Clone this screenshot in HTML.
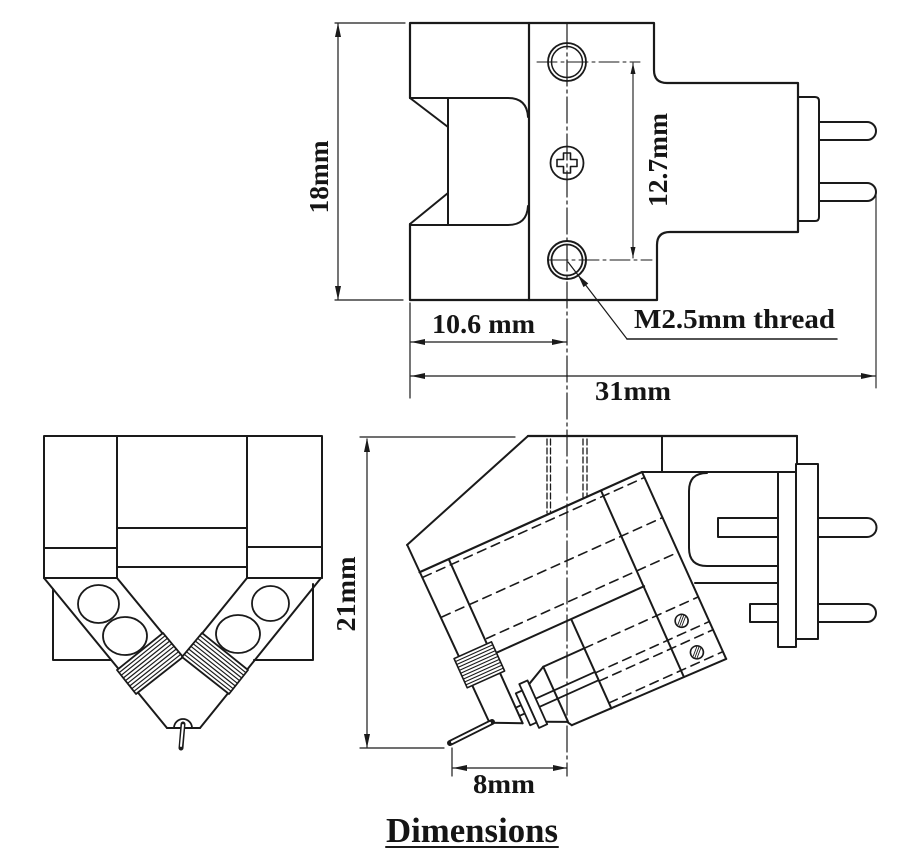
<!DOCTYPE html>
<html><head><meta charset="utf-8">
<style>
html,body{margin:0;padding:0;background:#fff}
svg{display:block}
text{font-family:"Liberation Serif","DejaVu Serif",serif;font-weight:bold;fill:#151515}
</style></head>
<body>
<svg width="907" height="859" viewBox="0 0 907 859" xmlns="http://www.w3.org/2000/svg">
<g fill="none" stroke="#1a1a1a" stroke-linecap="round" stroke-linejoin="round">

<!-- ===== Center line ===== -->
<line x1="567" y1="23" x2="567" y2="776" stroke-width="1.2" stroke-dasharray="26,4,3,4"/>
<line x1="537" y1="62" x2="640" y2="62" stroke-width="1" stroke-dasharray="20,4,3,4"/>
<line x1="548" y1="260" x2="652" y2="260" stroke-width="1" stroke-dasharray="20,4,3,4"/>

<!-- ===== TOP VIEW ===== -->
<path d="M410,98 L410,23 L654,23 L654,70 Q654,83 667,83 L798,83 L798,232 L670,232 Q657,232 657,245 L657,300 L410,300 L410,224" stroke-width="2.2"/>
<line x1="529" y1="23" x2="529" y2="300" stroke-width="2.2"/>
<path d="M410,98 L508,98 Q527,98 528,117" stroke-width="2"/>
<path d="M410,225 L508,225 Q527,225 528,206" stroke-width="2"/>
<line x1="448" y1="98" x2="448" y2="225" stroke-width="2"/>
<line x1="410" y1="98" x2="448" y2="127" stroke-width="2"/>
<line x1="410" y1="224" x2="448" y2="193" stroke-width="2"/>
<!-- plug -->
<path d="M798,97 L815,97 Q819,97 819,101 L819,217 Q819,221 815,221 L798,221" stroke-width="2"/>
<path d="M819,122 L867,122 A9,9 0 0 1 867,140 L819,140" stroke-width="2"/>
<path d="M819,183 L867,183 A9,9 0 0 1 867,201 L819,201" stroke-width="2"/>
<!-- holes -->
<circle cx="567" cy="62" r="19" stroke-width="1.8"/>
<circle cx="567" cy="62" r="15.5" stroke-width="1.5"/>
<circle cx="567" cy="163" r="16.5" stroke-width="1.8"/>
<path d="M563.5,153 h7 v6.5 h6.5 v7 h-6.5 v6.5 h-7 v-6.5 h-6.5 v-7 h6.5 z" stroke-width="1.6"/>
<circle cx="567" cy="260" r="19" stroke-width="2"/>
<circle cx="567" cy="260" r="15.5" stroke-width="1.8"/>

<!-- 18mm dim -->
<line x1="335" y1="23" x2="405" y2="23" stroke-width="1.2"/>
<line x1="335" y1="300" x2="403" y2="300" stroke-width="1.2"/>
<line x1="338" y1="24" x2="338" y2="299" stroke-width="1.2"/>
<!-- 12.7 dim -->
<line x1="633" y1="63" x2="633" y2="258" stroke-width="1.1"/>
<!-- 10.6 dim -->
<line x1="410" y1="303" x2="410" y2="398" stroke-width="1.2"/>
<line x1="411" y1="342" x2="566" y2="342" stroke-width="1.2"/>
<!-- 31 dim -->
<line x1="411" y1="376" x2="875" y2="376" stroke-width="1.2"/>
<line x1="876" y1="195" x2="876" y2="388" stroke-width="1.1"/>
<!-- M2.5 leader -->
<line x1="568" y1="262" x2="627" y2="339" stroke-width="1.2"/>
<line x1="627" y1="339" x2="837" y2="339" stroke-width="1.5"/>

<!-- ===== FRONT VIEW ===== -->
<path d="M44,578 L44,436 L322,436 L322,578" stroke-width="2"/>
<line x1="117" y1="436" x2="117" y2="578" stroke-width="2"/>
<line x1="247" y1="436" x2="247" y2="578" stroke-width="2"/>
<line x1="44" y1="548" x2="117" y2="548" stroke-width="2"/>
<line x1="247" y1="547" x2="322" y2="547" stroke-width="2"/>
<line x1="117" y1="528" x2="247" y2="528" stroke-width="2"/>
<line x1="117" y1="567" x2="247" y2="567" stroke-width="2"/>
<line x1="44" y1="578" x2="117" y2="578" stroke-width="2"/>
<line x1="247" y1="578" x2="322" y2="578" stroke-width="2"/>
<!-- back rect -->
<path d="M53,589 L53,660 L111,660" stroke-width="2"/>
<path d="M313,584 L313,660 L254,660" stroke-width="2"/>
<!-- arms -->
<line x1="44" y1="578" x2="167" y2="728" stroke-width="2"/>
<line x1="321" y1="578" x2="200" y2="728" stroke-width="2"/>
<line x1="117" y1="578" x2="182" y2="657" stroke-width="2"/>
<line x1="247" y1="578" x2="183" y2="657" stroke-width="2"/>
<line x1="167" y1="728" x2="200" y2="728" stroke-width="2"/>
<path d="M174,728 A9,9 0 0 1 192,728" stroke-width="1.8"/>
<line x1="183" y1="724" x2="181" y2="748" stroke="#1a1a1a" stroke-width="5"/>
<line x1="183" y1="725" x2="181" y2="746" stroke="#fff" stroke-width="2"/>
<!-- circles -->
<ellipse cx="98.5" cy="604" rx="20.5" ry="19" stroke-width="1.8"/>
<ellipse cx="125" cy="636" rx="22" ry="19" stroke-width="1.8"/>
<ellipse cx="270.5" cy="603.5" rx="18.5" ry="17.5" stroke-width="1.8"/>
<ellipse cx="238" cy="634" rx="22" ry="19" stroke-width="1.8"/>
<!-- coils -->
<polygon points="163,633 183,657 136,694 117,670" fill="#fff" stroke-width="1.8"/>
<g stroke-width="1.2">
<line x1="165.2" y1="635.7" x2="119.1" y2="672.7"/>
<line x1="167.4" y1="638.3" x2="121.2" y2="675.3"/>
<line x1="169.7" y1="641" x2="123.3" y2="678"/>
<line x1="171.9" y1="643.7" x2="125.4" y2="680.7"/>
<line x1="174.1" y1="646.3" x2="127.6" y2="683.3"/>
<line x1="176.3" y1="649" x2="129.7" y2="686"/>
<line x1="178.6" y1="651.7" x2="131.8" y2="688.7"/>
<line x1="180.8" y1="654.3" x2="133.9" y2="691.3"/>
</g>
<polygon points="202,633 182,657 229,694 248,670" fill="#fff" stroke-width="1.8"/>
<g stroke-width="1.2">
<line x1="199.8" y1="635.7" x2="245.9" y2="672.7"/>
<line x1="197.6" y1="638.3" x2="243.8" y2="675.3"/>
<line x1="195.3" y1="641" x2="241.7" y2="678"/>
<line x1="193.1" y1="643.7" x2="239.6" y2="680.7"/>
<line x1="190.9" y1="646.3" x2="237.4" y2="683.3"/>
<line x1="188.7" y1="649" x2="235.3" y2="686"/>
<line x1="186.4" y1="651.7" x2="233.2" y2="688.7"/>
<line x1="184.2" y1="654.3" x2="231.1" y2="691.3"/>
</g>

<!-- ===== SIDE VIEW ===== -->
<line x1="407" y1="545" x2="528" y2="436" stroke-width="2"/>
<line x1="528" y1="436" x2="797" y2="436" stroke-width="2.2"/>
<line x1="797" y1="436" x2="797" y2="472" stroke-width="2"/>
<line x1="662" y1="436" x2="662" y2="472" stroke-width="2"/>
<line x1="642" y1="472" x2="797" y2="472" stroke-width="2"/>
<!-- hidden holes -->
<g stroke-width="1.3" stroke-dasharray="6,3">
<line x1="547" y1="439" x2="547" y2="513"/>
<line x1="550.5" y1="439" x2="550.5" y2="512"/>
<line x1="583" y1="439" x2="583" y2="497"/>
<line x1="587" y1="439" x2="587" y2="496"/>
</g>
<!-- U bracket -->
<path d="M707,473 Q689,473 689,491 L689,548 Q689,566 707,566 L778,566" stroke-width="2"/>
<line x1="695" y1="583" x2="778" y2="583" stroke-width="2"/>
<!-- plug -->
<rect x="778" y="472" width="18" height="175" stroke-width="2" fill="#fff"/>
<rect x="796" y="464" width="22" height="175" stroke-width="2" fill="#fff"/>
<rect x="718" y="518" width="60" height="19" stroke-width="2"/>
<path d="M818,518 L867,518 A9.5,9.5 0 0 1 867,537 L818,537" stroke-width="2"/>
<rect x="750" y="604" width="28" height="18" stroke-width="2"/>
<path d="M818,604 L867,604 A9,9 0 0 1 867,622 L818,622" stroke-width="2"/>

<!-- cylinder in local coords -->
<g transform="translate(642,472) rotate(-24.25)">
  <line x1="-244" y1="0" x2="0" y2="0" stroke-width="2.2"/>
  <line x1="0" y1="0" x2="0" y2="205" stroke-width="2"/>
  <line x1="-168" y1="202" x2="0" y2="205" stroke-width="2"/>
  <line x1="-45" y1="0" x2="-46" y2="204" stroke-width="2"/>
  <line x1="-244" y1="-30" x2="-242" y2="166" stroke-width="2"/>
  <line x1="-212" y1="0" x2="-212" y2="180" stroke-width="2"/>
  <line x1="-208" y1="105" x2="-45" y2="105" stroke-width="2"/>
  <line x1="-125" y1="106" x2="-125" y2="203" stroke-width="2"/>
  <g stroke-width="1.6" stroke-dasharray="9,6">
    <line x1="-243" y1="6" x2="0" y2="6"/>
    <line x1="-242" y1="50" x2="0" y2="50"/>
    <line x1="-210" y1="88" x2="0" y2="88"/>
    <line x1="-125" y1="137" x2="0" y2="137"/>
    <line x1="-125" y1="164" x2="0" y2="164"/>
    <line x1="-125" y1="173" x2="0" y2="173"/>
    <line x1="-125" y1="197" x2="0" y2="197"/>
  </g>
  <!-- stylus housing -->
  <line x1="-170" y1="137" x2="-125" y2="137" stroke-width="2"/>
  <line x1="-170" y1="137" x2="-170" y2="197" stroke-width="2"/>
  <line x1="-170" y1="137" x2="-190" y2="147" stroke-width="2"/>
  <line x1="-190" y1="147" x2="-191" y2="187" stroke-width="2"/>
  <polyline points="-193,187 -171,197 -168,202" stroke-width="2"/>
  <line x1="-212" y1="163" x2="-125" y2="163" stroke-width="1.8"/>
  <line x1="-212" y1="172" x2="-125" y2="172" stroke-width="1.8"/>
  <rect x="-199" y="143" width="9" height="48" fill="#fff" stroke-width="1.8"/>
  <rect x="-206" y="150" width="7" height="35" fill="#fff" stroke-width="1.8"/>
  <!-- screws -->
  <circle cx="-25" cy="152" r="6.5" fill="#fff" stroke-width="1.6"/>
  <circle cx="-24" cy="187" r="6.5" fill="#fff" stroke-width="1.6"/>
  <g stroke-width="0.9">
    <line x1="-29" y1="156" x2="-21" y2="148"/><line x1="-27" y1="157" x2="-20" y2="150"/><line x1="-30" y1="154" x2="-23" y2="147"/>
    <line x1="-28" y1="191" x2="-20" y2="183"/><line x1="-26" y1="192" x2="-19" y2="185"/><line x1="-29" y1="189" x2="-22" y2="182"/>
  </g>
  <!-- coil -->
  <rect x="-248" y="93" width="41" height="32" fill="#fff" stroke-width="1.6"/>
  <g stroke-width="1.1">
    <line x1="-248" y1="96.2" x2="-207" y2="96.2"/>
    <line x1="-248" y1="99.4" x2="-207" y2="99.4"/>
    <line x1="-248" y1="102.6" x2="-207" y2="102.6"/>
    <line x1="-248" y1="105.8" x2="-207" y2="105.8"/>
    <line x1="-248" y1="109" x2="-207" y2="109"/>
    <line x1="-248" y1="112.2" x2="-207" y2="112.2"/>
    <line x1="-248" y1="115.4" x2="-207" y2="115.4"/>
    <line x1="-248" y1="118.6" x2="-207" y2="118.6"/>
    <line x1="-248" y1="121.8" x2="-207" y2="121.8"/>
  </g>
  <line x1="-242" y1="166" x2="-212" y2="180" stroke-width="2"/>
</g>
<!-- cantilever -->
<line x1="450" y1="743" x2="492" y2="722" stroke="#1a1a1a" stroke-width="6"/>
<line x1="452" y1="742" x2="490" y2="723" stroke="#fff" stroke-width="2.2"/>

<!-- 21mm dim -->
<line x1="360" y1="437" x2="515" y2="437" stroke-width="1.2"/>
<line x1="360" y1="748" x2="444" y2="748" stroke-width="1.2"/>
<line x1="367" y1="439" x2="367" y2="747" stroke-width="1.2"/>
<!-- 8mm dim -->
<line x1="452" y1="748" x2="452" y2="776" stroke-width="1.2"/>
<line x1="453" y1="768" x2="567" y2="768" stroke-width="1.2"/>

<!-- Dimensions underline -->
<line x1="386" y1="847" x2="558" y2="847" stroke-width="2"/>
</g>

<!-- arrowheads -->
<g fill="#1a1a1a" stroke="none">
<polygon points="338,23 335,37 341,37"/>
<polygon points="338,300 335,286 341,286"/>
<polygon points="633,63 630.5,74 635.5,74"/>
<polygon points="633,258 630.5,247 635.5,247"/>
<polygon points="411,342 425,339 425,345"/>
<polygon points="566,342 552,339 552,345"/>
<polygon points="411,376 425,373 425,379"/>
<polygon points="875,376 861,373 861,379"/>
<polygon points="367,438 364,452 370,452"/>
<polygon points="367,748 364,734 370,734"/>
<polygon points="453,768 467,765 467,771"/>
<polygon points="567,768 553,765 553,771"/>
<polygon points="578,275 588.3,283.5 583.5,287.1"/>
</g>

<!-- texts -->
<text transform="translate(328,177) rotate(-90)" text-anchor="middle" font-size="27" textLength="73" lengthAdjust="spacingAndGlyphs">18mm</text>
<text transform="translate(667,160) rotate(-90)" text-anchor="middle" font-size="27" textLength="94" lengthAdjust="spacingAndGlyphs">12.7mm</text>
<text transform="translate(355,594) rotate(-90)" text-anchor="middle" font-size="27" textLength="75" lengthAdjust="spacingAndGlyphs">21mm</text>
<text x="432" y="333" font-size="27" textLength="103" lengthAdjust="spacingAndGlyphs">10.6 mm</text>
<text x="595" y="400" font-size="27" textLength="76" lengthAdjust="spacingAndGlyphs">31mm</text>
<text x="634" y="328" font-size="27" textLength="201" lengthAdjust="spacingAndGlyphs">M2.5mm thread</text>
<text x="473" y="793" font-size="27" textLength="62" lengthAdjust="spacingAndGlyphs">8mm</text>
<text x="386" y="842" font-size="35" textLength="172" lengthAdjust="spacingAndGlyphs">Dimensions</text>
</svg>
</body></html>
